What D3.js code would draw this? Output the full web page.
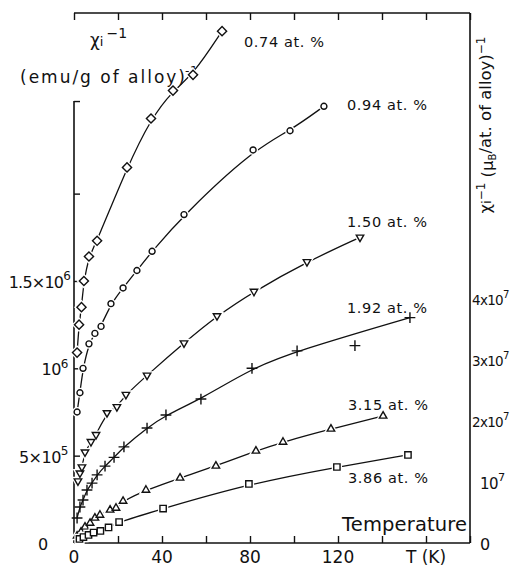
<!DOCTYPE html>
<html><head><meta charset="utf-8">
<script src="https://cdn.jsdelivr.net/npm/d3@7"></script>
<style>
body{margin:0;background:#fff;}
svg{display:block;font-family:"DejaVu Sans",sans-serif;fill:#111;}
</style></head>
<body><svg id="c" width="516" height="567"></svg>
<script>
// ---- data (T in K, chi^-1 in units of 1e6 emu/g of alloy) ----
const seriesNames = ["0.74 at. %","0.94 at. %","1.50 at. %","1.92 at. %","3.15 at. %","3.86 at. %"];
const t074 = [1.4, 2.3, 3.4, 4.5, 6.8, 10.5, 24.1, 35.0, 45.0, 54.1, 67.3];
const c074 = [1.09, 1.25, 1.35, 1.50, 1.64, 1.73, 2.15, 2.43, 2.59, 2.68, 2.93];
const t094 = [1.4, 2.7, 4.1, 6.8, 9.5, 12.3, 16.8, 22.3, 28.6, 35.5, 50.0, 81.4, 98.2, 113.6];
const c094 = [0.75, 0.86, 1.00, 1.14, 1.20, 1.24, 1.37, 1.46, 1.56, 1.67, 1.88, 2.25, 2.36, 2.50];
const t150 = [1.8, 2.7, 3.6, 5.0, 7.7, 10.0, 15.0, 19.5, 23.6, 33.2, 50.0, 65.0, 81.8, 105.9, 130.0];
const c150 = [0.355, 0.40, 0.435, 0.52, 0.58, 0.62, 0.745, 0.78, 0.85, 0.96, 1.145, 1.30, 1.44, 1.61, 1.75];
const t192 = [1.4, 2.7, 4.1, 5.9, 8.2, 10.5, 14.1, 18.2, 22.7, 33.2, 41.8, 57.7, 80.9, 101.4, 127.7, 152.7];
const c192 = [0.143, 0.206, 0.246, 0.303, 0.343, 0.39, 0.44, 0.49, 0.55, 0.658, 0.733, 0.824, 1.00, 1.10, 1.13, 1.29];
const offCurve192 = [14];   // point that lies off the drawn fit curve
const t315 = [1.4, 3.2, 5.0, 7.3, 9.5, 11.8, 16.4, 19.1, 22.3, 32.7, 48.2, 64.5, 82.7, 95.0, 116.8, 140.5];
const c315 = [0.040, 0.063, 0.092, 0.114, 0.143, 0.160, 0.189, 0.200, 0.240, 0.303, 0.372, 0.441, 0.527, 0.578, 0.653, 0.727];
const t386 = [2.5, 4.3, 6.6, 8.9, 12.0, 15.7, 20.5, 40.5, 79.5, 119.5, 151.8];
const c386 = [0.023, 0.034, 0.046, 0.060, 0.069, 0.089, 0.120, 0.197, 0.338, 0.435, 0.504];
const xTicks = [0, 40, 80, 120];
const leftTicks = [0, 0.5, 1.0, 1.5];     // 1e6
const rightTicks = [0, 1, 2, 3, 4];        // 1e7

// ---- scales ----
const svg = d3.select("#c");
const x = d3.scaleLinear().domain([0, 180]).range([74, 470]);
const yL = d3.scaleLinear().domain([0, 3.034]).range([543, 13]);
const yR = d3.scaleLinear().domain([0, 8.69]).range([543, 13]);

const ink = "#111";
// frame
const frame = svg.append("g").attr("stroke", ink).attr("stroke-width", 1.6).attr("fill","none");
frame.append("line").attr("x1", x(0)).attr("x2", x(180)).attr("y1", yL(0)).attr("y2", yL(0));
frame.append("line").attr("x1", x(0)).attr("x2", x(180)).attr("y1", yL(3.034)).attr("y2", yL(3.034));
frame.append("line").attr("x1", x(180)).attr("x2", x(180)).attr("y1", yL(0)).attr("y2", yL(3.034));
frame.append("line").attr("x1", x(0)).attr("x2", x(0)).attr("y1", yL(0)).attr("y2", yL(2.53));

// ticks via d3 axes
const bottomAx = d3.axisTop(x).tickValues(d3.range(0, 181, 20)).tickSize(7).tickFormat("");
svg.append("g").attr("transform", `translate(0,${yL(0)})`).call(bottomAx)
  .call(g => g.select(".domain").remove()).selectAll("line").attr("stroke", ink).attr("stroke-width", 1.4);
const topAx = d3.axisBottom(x).tickValues(d3.range(0, 181, 20)).tickSize(7).tickFormat("");
svg.append("g").attr("transform", `translate(0,${yL(3.034)})`).call(topAx)
  .call(g => g.select(".domain").remove()).selectAll("line").attr("stroke", ink).attr("stroke-width", 1.4);
const leftAx = d3.axisRight(yL).tickValues([0.5, 1.0, 1.5, 2.0, 2.53]).tickSize(6).tickFormat("");
svg.append("g").attr("transform", `translate(${x(0)},0)`).call(leftAx)
  .call(g => g.select(".domain").remove()).selectAll("line").attr("stroke", ink).attr("stroke-width", 1.4);

// bottom labels
const fs = 16;
svg.append("g").selectAll("text").data(xTicks).join("text")
  .attr("x", d => x(d)).attr("y", 563).attr("text-anchor", "middle")
  .attr("font-size", 17).text(d => d);
svg.append("text").attr("x", x(160)).attr("y", 563).attr("text-anchor", "middle")
  .attr("font-size", 17).text("T (K)");

// scientific labels
function sciLabel(g, mant, exp, anchor, xPos, yPos, size, ls) {
  const t = g.append("text").attr("x", xPos).attr("y", yPos).attr("text-anchor", anchor)
    .attr("font-size", size).attr("dominant-baseline", "middle").attr("letter-spacing", ls || 0);
  if (mant) t.append("tspan").text(mant);
  t.append("tspan").text("10");
  t.append("tspan").attr("dy", "-0.55em").attr("font-size", size * 0.75).text(exp);
  return t;
}
const lg = svg.append("g");
leftTicks.forEach(v => {
  if (v === 0) {
    lg.append("text").attr("x", 43).attr("y", yL(0) + 2).attr("text-anchor", "middle")
      .attr("dominant-baseline", "middle").attr("font-size", fs).text("0");
  } else if (v === 1.0) {
    sciLabel(lg, "", "6", "end", 68, yL(v) + 2, fs, -0.5);
  } else if (v === 0.5) {
    sciLabel(lg, "5×", "5", "end", 68, yL(v) + 2, fs, -0.5);
  } else {
    sciLabel(lg, "1.5×", "6", "end", 70, yL(v) + 2, fs, -0.8);
  }
});

const rg = svg.append("g");
rightTicks.forEach(v => {
  if (v === 0) {
    rg.append("text").attr("x", 480).attr("y", yR(0) + 2).attr("dominant-baseline", "middle")
      .attr("font-size", fs).text("0");
  } else if (v === 1) {
    sciLabel(rg, "", "7", "start", 480, yR(v) + 2, 15, -0.5);
  } else {
    sciLabel(rg, v + "x", "7", "start", 472, yR(v) + 2, 13.5, -0.7);
  }
});

// axis titles
const t1 = svg.append("text").attr("x", 90).attr("y", 46).attr("font-size", 17);
t1.append("tspan").text("χ");
t1.append("tspan").attr("font-size", 13).text("i");
t1.append("tspan").attr("dy", "-0.6em").attr("dx", "3").attr("font-size", 14).text("−1");
svg.append("text").attr("x", 20).attr("y", 83).attr("font-size", 17).attr("textLength", 165).text("(emu/g of alloy)");
svg.append("text").attr("x", 185).attr("y", 75).attr("font-size", 13).text("-1");

const rt = svg.append("text").attr("transform", `translate(491,125) rotate(-90)`)
  .attr("text-anchor", "middle").attr("font-size", 16.5);
rt.append("tspan").text("χ");
rt.append("tspan").attr("font-size", 13).text("i");
rt.append("tspan").attr("dy", "-0.5em").attr("font-size", 12).text("−1");
rt.append("tspan").attr("dy", "0.5em").text(" (μ");
rt.append("tspan").attr("font-size", 10).attr("dy", "0.3em").text("B");
rt.append("tspan").attr("dy", "-0.3em").text("/at. of alloy)");
rt.append("tspan").attr("dy", "-0.5em").attr("font-size", 12).text("−1");

svg.append("text").attr("x", 342).attr("y", 531).attr("font-size", 19.5).attr("textLength", 125).text("Temperature");

// ---- series ----
const series = [
  {name: seriesNames[0], t: t074, c: c074, sym: d3.symbolSquare, size: 42, rot: 45, lx: 244, ly: 47, skip: []},
  {name: seriesNames[1], t: t094, c: c094, sym: d3.symbolCircle, size: 28, rot: 0, lx: 347, ly: 110, skip: []},
  {name: seriesNames[2], t: t150, c: c150, sym: d3.symbolTriangle, size: 24, rot: 180, lx: 347, ly: 227, skip: []},
  {name: seriesNames[3], t: t192, c: c192, sym: d3.symbolPlus || d3.symbolCross, size: 40, rot: 0, lx: 347, ly: 313, skip: offCurve192},
  {name: seriesNames[4], t: t315, c: c315, sym: d3.symbolTriangle, size: 24, rot: 0, lx: 348, ly: 410, skip: []},
  {name: seriesNames[5], t: t386, c: c386, sym: d3.symbolSquare, size: 40, rot: 0, lx: 348, ly: 483, skip: []}
];

const line = d3.line().x(d => x(d[0])).y(d => yL(d[1])).curve(d3.curveBasis);

series.forEach(s => {
  const pts = s.t.map((t, i) => [t, s.c[i]]);
  const curvePts = pts.filter((d, i) => !s.skip.includes(i));
  svg.append("path").attr("d", line(curvePts)).attr("fill", "none")
    .attr("stroke", ink).attr("stroke-width", 1.3);
  const isPlus = s.sym === d3.symbolPlus || s.sym === d3.symbolCross;
  const g = svg.append("g");
  const sym = d3.symbol().type(s.sym).size(s.size);
  if (!isPlus) {
    g.selectAll("path.h").data(pts).join("path").attr("class", "h")
      .attr("transform", d => `translate(${x(d[0])},${yL(d[1])}) rotate(${s.rot})`)
      .attr("d", sym).attr("fill", "#fff").attr("stroke", "#fff").attr("stroke-width", 4);
  }
  g.selectAll("path.m").data(pts).join("path").attr("class", "m")
    .attr("transform", d => `translate(${x(d[0])},${yL(d[1])}) rotate(${s.rot})`)
    .attr("d", sym).attr("fill", isPlus ? "none" : "#fff").attr("stroke", ink).attr("stroke-width", 1.4);
  svg.append("text").attr("x", s.lx).attr("y", s.ly).attr("font-size", 14.5).attr("textLength", 80).text(s.name);
});
</script></body></html>
